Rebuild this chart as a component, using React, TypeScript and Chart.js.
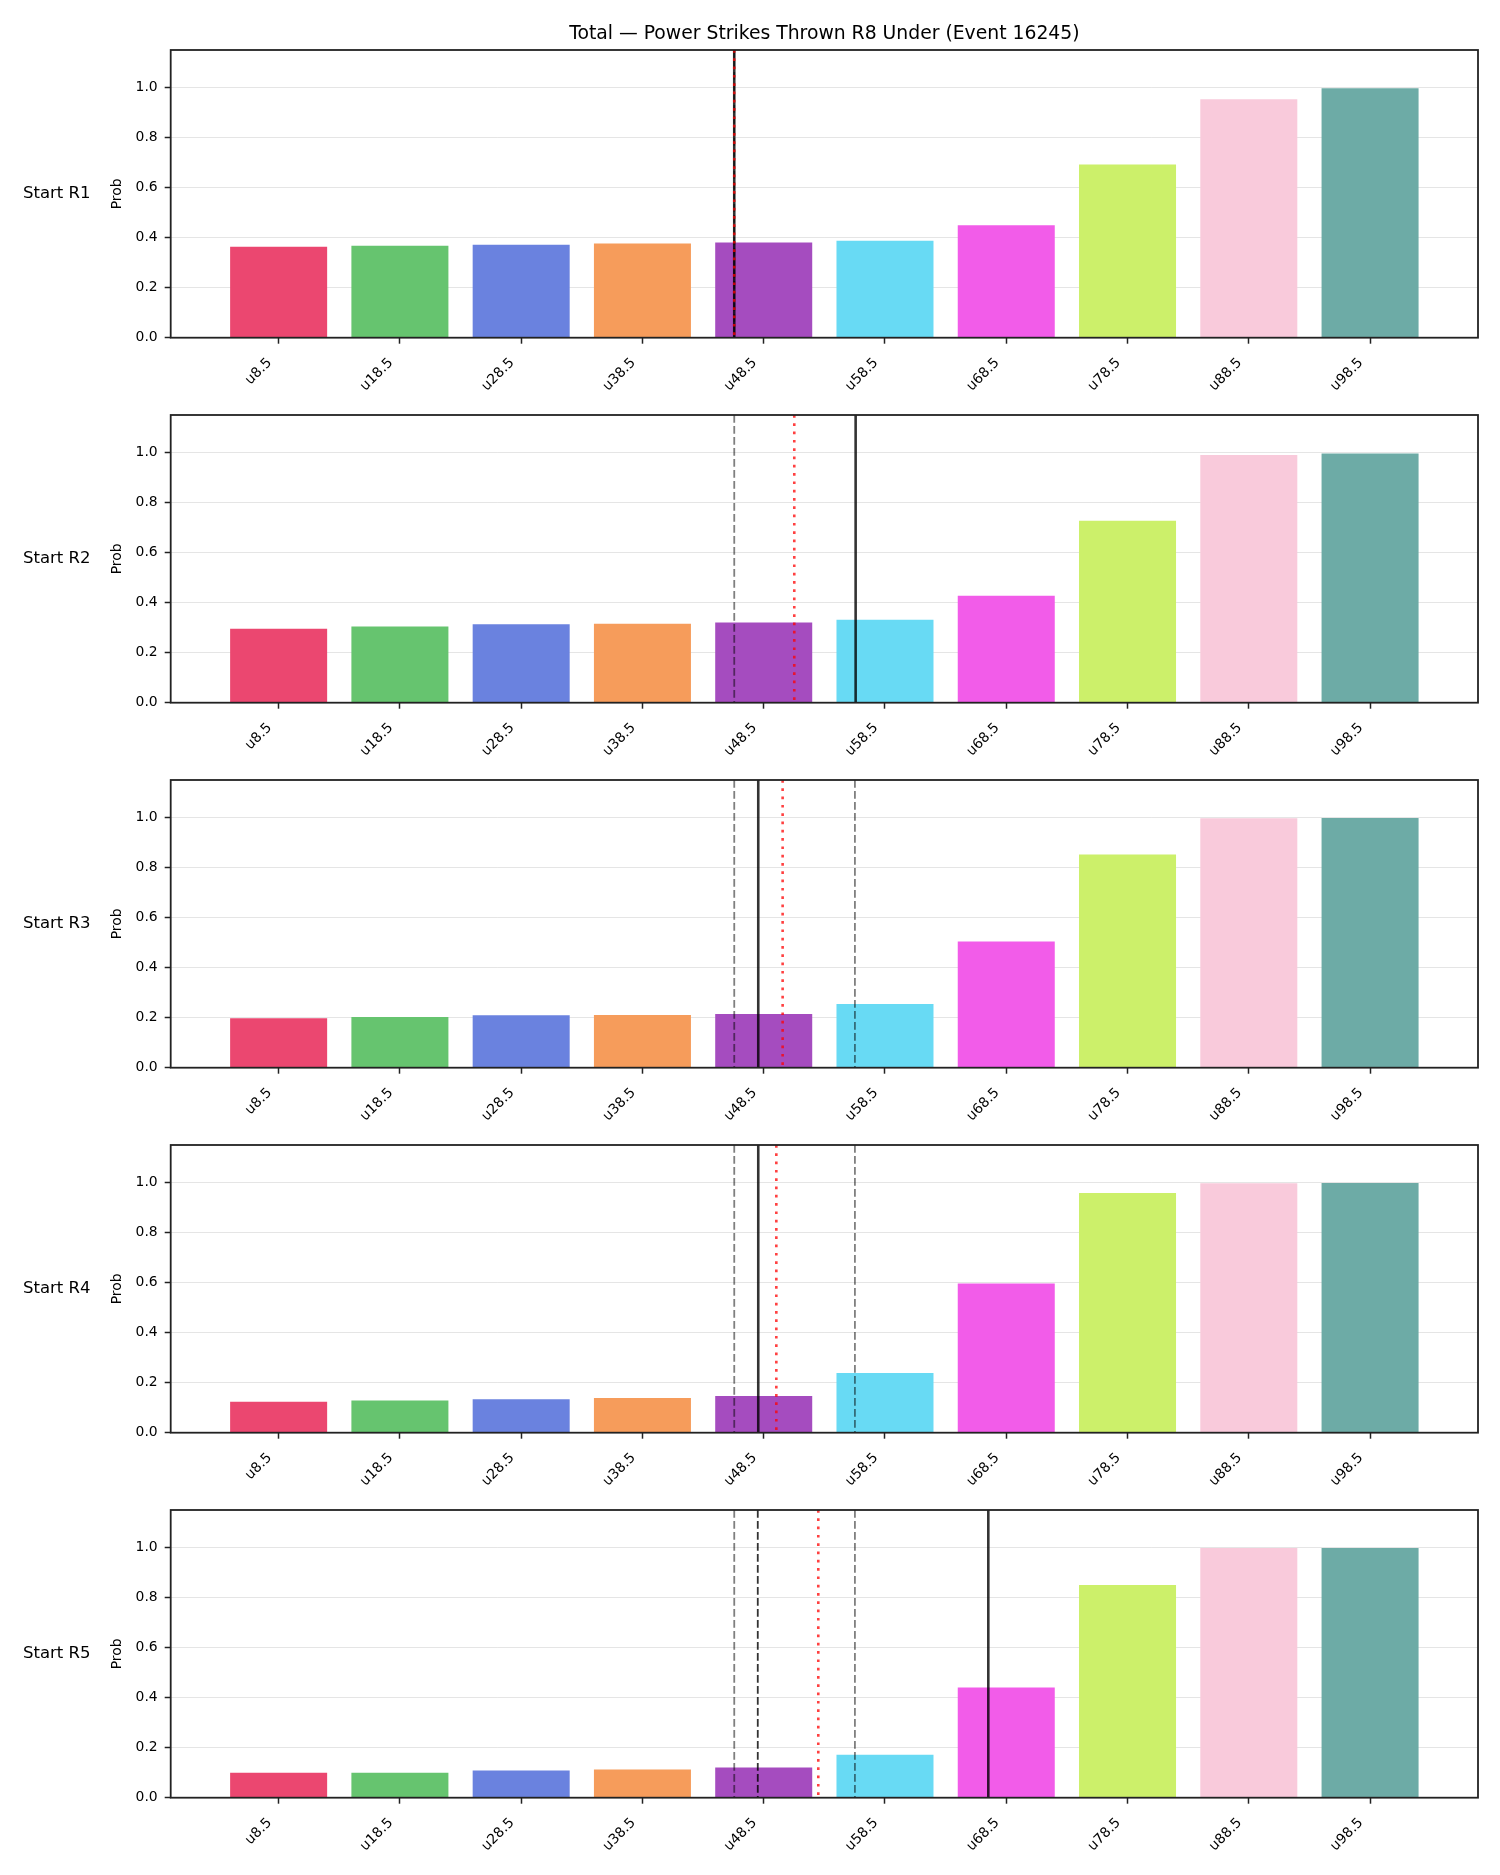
import React, { useEffect, useRef } from 'react';
import { Chart, registerables } from 'chart.js';

Chart.register(...registerables);
Chart.defaults.font.family = "'DejaVu Sans', sans-serif";

const TITLE = 'Total — Power Strikes Thrown R8 Under (Event 16245)';
const CATEGORIES = ['u8.5', 'u18.5', 'u28.5', 'u38.5', 'u48.5', 'u58.5', 'u68.5', 'u78.5', 'u88.5', 'u98.5'];
const BAR_COLORS = ['#EB4770', '#66C46F', '#6A82DF', '#F69C5B', '#A54CBF', '#68DAF4', '#F25CE9', '#CCF06A', '#F9CADB', '#6DABA6'];
const ROW_LABELS = ['Start R1', 'Start R2', 'Start R3', 'Start R4', 'Start R5'];
const Y_LABEL = 'Prob';
const Y_TICKS = [0, 0.2, 0.4, 0.6, 0.8, 1.0];

const PROB_R1 = [0.364, 0.368, 0.372, 0.377, 0.381, 0.388, 0.449, 0.692, 0.953, 0.997];
const PROB_R2 = [0.296, 0.305, 0.314, 0.316, 0.321, 0.332, 0.428, 0.727, 0.990, 0.996];
const PROB_R3 = [0.198, 0.203, 0.210, 0.211, 0.215, 0.255, 0.504, 0.852, 0.997, 0.998];
const PROB_R4 = [0.124, 0.129, 0.134, 0.139, 0.147, 0.239, 0.596, 0.958, 0.997, 0.998];
const PROB_R5 = [0.100, 0.100, 0.109, 0.113, 0.121, 0.172, 0.440, 0.850, 0.998, 0.998];
const PROBS = [PROB_R1, PROB_R2, PROB_R3, PROB_R4, PROB_R5];

// marker positions in category-index units
const GRAY_DASHED = [[3.757], [3.757], [3.757, 4.752], [3.757, 4.752], [3.757, 4.752]];
const DARK_DASHED = [[], [], [], [], [3.951]];
const SOLID_LINE = [[3.757], [4.758], [3.955], [3.955], [5.852]];
const RED_DOTTED = [[3.757], [4.252], [4.156], [4.104], [4.450]];

const PANEL_STEP = 365;
const CANVAS_H = 420;

function Panel({ idx }: { idx: number }) {
  const ref = useRef<HTMLCanvasElement | null>(null);
  useEffect(() => {
    const canvas = ref.current;
    if (!canvas) return;
    const overlay = {
      id: 'overlay' + idx,
      afterDraw(chart: any) {
        const ctx = chart.ctx;
        const ca = chart.chartArea;
        const xs = chart.scales.x;
        const drawV = (vals: number[], color: string, width: number, dash: number[]) => {
          vals.forEach((v) => {
            const px = xs.getPixelForValue(v);
            ctx.save();
            ctx.strokeStyle = color;
            ctx.lineWidth = width;
            ctx.setLineDash(dash);
            ctx.beginPath();
            ctx.moveTo(px, ca.top);
            ctx.lineTo(px, ca.bottom);
            ctx.stroke();
            ctx.restore();
          });
        };
        drawV(GRAY_DASHED[idx], 'rgba(0,0,0,0.5)', 1.8, [7.7, 3.3]);
        drawV(DARK_DASHED[idx], 'rgba(0,0,0,0.8)', 1.8, [7.7, 3.3]);
        drawV(SOLID_LINE[idx], 'rgba(0,0,0,0.8)', 2.6, []);
        drawV(RED_DOTTED[idx], 'rgba(255,0,0,0.75)', 2.6, [2.7, 5.6]);

        ctx.save();
        ctx.strokeStyle = '#222';
        ctx.lineWidth = 1.8;
        ctx.strokeRect(ca.left, ca.top, ca.right - ca.left, ca.bottom - ca.top);
        ctx.restore();

        const cy = (ca.top + ca.bottom) / 2;
        ctx.save();
        ctx.fillStyle = '#000';
        ctx.font = "16.5px 'DejaVu Sans', sans-serif";
        ctx.textAlign = 'center';
        ctx.textBaseline = 'middle';
        ctx.fillText(ROW_LABELS[idx], 56.7, cy);
        ctx.restore();

        ctx.save();
        ctx.fillStyle = '#000';
        ctx.font = "13.9px 'DejaVu Sans', sans-serif";
        ctx.textAlign = 'center';
        ctx.textBaseline = 'middle';
        ctx.translate(117, cy);
        ctx.rotate(-Math.PI / 2);
        ctx.fillText(Y_LABEL, 0, 0);
        ctx.restore();

        if (idx === 0) {
          ctx.save();
          ctx.fillStyle = '#000';
          ctx.font = "18.8px 'DejaVu Sans', sans-serif";
          ctx.textAlign = 'center';
          ctx.textBaseline = 'alphabetic';
          ctx.fillText(TITLE, (ca.left + ca.right) / 2, 39);
          ctx.restore();
        }
      },
    };
    const chart = new Chart(canvas, {
      type: 'bar',
      data: {
        datasets: [
          {
            data: PROBS[idx].map((v, i) => ({ x: i, y: v })) as any,
            backgroundColor: BAR_COLORS,
            borderWidth: 0,
            categoryPercentage: 0.8,
            barPercentage: 1.0,
          },
        ],
      },
      options: {
        animation: false,
        responsive: false,
        maintainAspectRatio: false,
        layout: { padding: { top: 50, right: 22, bottom: 22.3, left: 0 } },
        plugins: { legend: { display: false }, tooltip: { enabled: false }, title: { display: false } },
        scales: {
          x: {
            type: 'linear',
            min: -0.89,
            max: 9.89,
            offset: false,
            afterBuildTicks: (s: any) => {
              s.ticks = CATEGORIES.map((_, i) => ({ value: i }));
            },
            afterFit: (s: any) => {
              s.height = 60;
            },
            grid: { offset: false, drawOnChartArea: false, drawTicks: true, tickLength: 6, tickColor: '#222', tickWidth: 1.5 },
            border: { display: false },
            ticks: {
              autoSkip: false,
              minRotation: 45,
              maxRotation: 45,
              padding: 11,
              labelOffset: -9,
              color: '#000',
              font: { size: 13.9 },
              callback: (v: any) => CATEGORIES[Math.round(Number(v))] ?? '',
            },
          },
          y: {
            min: 0,
            max: 1.15,
            z: 1,
            afterBuildTicks: (s: any) => {
              s.ticks = Y_TICKS.map((v) => ({ value: v }));
            },
            afterFit: (s: any) => {
              s.width = 170.7;
            },
            grid: { color: 'rgba(0,0,0,0.1)', lineWidth: 1, tickColor: '#222', tickLength: 6, tickWidth: 1.5 },
            border: { display: false },
            ticks: {
              padding: 7,
              color: '#000',
              font: { size: 13.9 },
              callback: (v: any) => Number(v).toFixed(1),
            },
          },
        },
      } as any,
      plugins: [overlay],
    });
    return () => chart.destroy();
  }, [idx]);
  return (
    <canvas
      ref={ref}
      width={1500}
      height={CANVAS_H}
      style={{ position: 'absolute', left: 0, top: idx * PANEL_STEP, width: 1500, height: CANVAS_H }}
    />
  );
}

export default function App() {
  return (
    <div
      style={{
        position: 'absolute',
        left: 0,
        top: 0,
        width: 1500,
        height: 1875,
        overflow: 'hidden',
        background: '#fff',
      }}
    >
      {PROBS.map((_, i) => (
        <Panel key={i} idx={i} />
      ))}
    </div>
  );
}
